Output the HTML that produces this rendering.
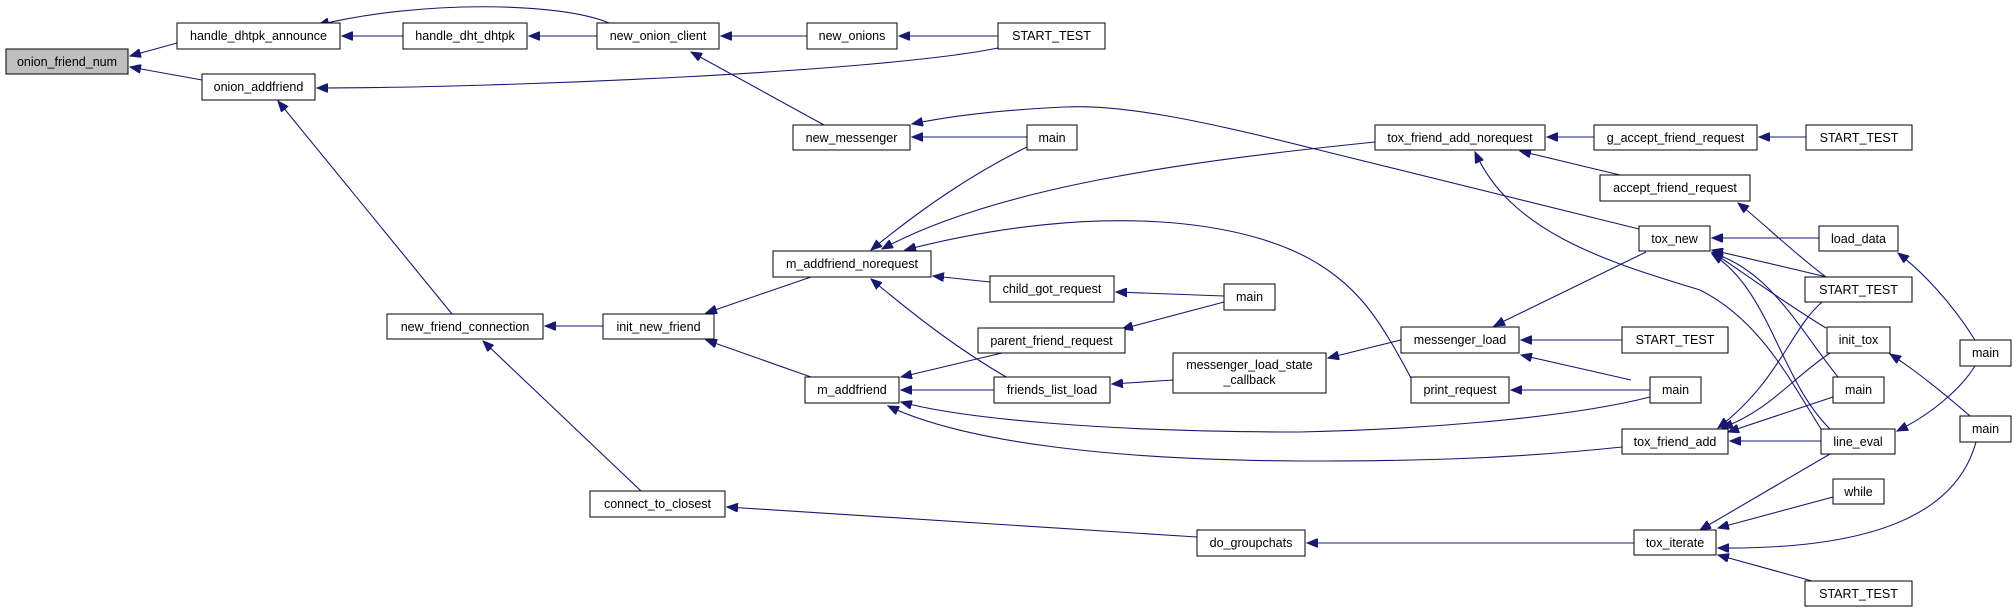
<!DOCTYPE html>
<html><head><meta charset="utf-8"><style>
html,body{margin:0;padding:0;background:#fff;}
svg{display:block;}
text{font-family:"Liberation Sans",Arial,sans-serif;font-size:12.5px;fill:#000;text-anchor:middle;}
rect{fill:#fff;stroke:#000;stroke-width:1;}
path.e{fill:none;stroke:#191970;stroke-width:1.1;marker-end:url(#a);}
</style></head><body>
<svg width="2016" height="612" viewBox="0 0 2016 612" xmlns="http://www.w3.org/2000/svg">
<defs><marker id="a" markerUnits="userSpaceOnUse" markerWidth="12" markerHeight="9" refX="11" refY="4.5" orient="auto"><path d="M0,0 L11,4.5 L0,9 z" fill="#191970" stroke="#191970"/></marker></defs>
<g>
<path class="e" d="M177,43 L130,56"/>
<path class="e" d="M202,80 L130,67"/>
<path class="e" d="M403,36 L342,36"/>
<path class="e" d="M609,23 C560,2 420,0 318,25"/>
<path class="e" d="M597,36 L529,36"/>
<path class="e" d="M807,36 L721,36"/>
<path class="e" d="M998,36 L899,36"/>
<path class="e" d="M998,48 C880,72 500,88 317,88"/>
<path class="e" d="M824,125 L691,52"/>
<path class="e" d="M1027,137 L912,137"/>
<path class="e" d="M1639,229 L1311,148 C1200,120 1120,104 1065,107 C1000,110 950,116 912,124"/>
<path class="e" d="M1027,147 C970,175 920,210 871,250"/>
<path class="e" d="M1375,142 C1200,160 1000,185 882,249"/>
<path class="e" d="M1411,378 C1380,320 1360,290 1320,265 C1250,220 1100,200 905,250"/>
<path class="e" d="M990,282 L933,276"/>
<path class="e" d="M1224,296 L1116,292"/>
<path class="e" d="M1224,302 L1122,329"/>
<path class="e" d="M1006,377 C960,350 920,320 871,279"/>
<path class="e" d="M811,277 L706,313"/>
<path class="e" d="M811,377 L706,340"/>
<path class="e" d="M603,326 L545,326"/>
<path class="e" d="M452,314 L278,101"/>
<path class="e" d="M641,491 L483,341"/>
<path class="e" d="M1197,537 L727,507"/>
<path class="e" d="M1634,543 L1307,543"/>
<path class="e" d="M1002,353 L901,377"/>
<path class="e" d="M994,390 L901,390"/>
<path class="e" d="M1173,380 L1112,384"/>
<path class="e" d="M1401,340 L1328,358"/>
<path class="e" d="M1650,397 C1560,420 1400,430 1300,432 C1100,432 960,418 901,402"/>
<path class="e" d="M1622,447 C1500,460 1400,461 1300,461 C1100,460 960,440 888,406"/>
<path class="e" d="M1650,390 L1511,390"/>
<path class="e" d="M1646,252 L1494,326"/>
<path class="e" d="M1622,340 L1521,340"/>
<path class="e" d="M1631,380 L1521,355"/>
<path class="e" d="M1819,238 L1712,238"/>
<path class="e" d="M1827,277 L1712,250"/>
<path class="e" d="M1826,328 C1780,300 1740,270 1712,252"/>
<path class="e" d="M1838,377 C1800,330 1770,270 1712,253"/>
<path class="e" d="M1830,429 C1780,380 1770,290 1712,254"/>
<path class="e" d="M1826,277 C1790,250 1760,220 1738,203"/>
<path class="e" d="M1620,175 L1520,151"/>
<path class="e" d="M1594,137 L1547,137"/>
<path class="e" d="M1806,137 L1759,137"/>
<path class="e" d="M1821,429 C1790,380 1760,320 1700,290 C1600,260 1510,230 1475,152"/>
<path class="e" d="M1822,302 C1790,330 1780,380 1718,428"/>
<path class="e" d="M1830,353 C1790,380 1770,410 1722,428"/>
<path class="e" d="M1833,397 L1728,432"/>
<path class="e" d="M1821,441 L1730,441"/>
<path class="e" d="M1975,340 C1950,300 1920,270 1898,253"/>
<path class="e" d="M1975,366 C1960,390 1930,415 1897,431"/>
<path class="e" d="M1970,416 C1940,390 1915,370 1890,354"/>
<path class="e" d="M1976,442 C1960,500 1900,550 1718,548"/>
<path class="e" d="M1830,454 L1700,530"/>
<path class="e" d="M1833,497 L1718,528"/>
<path class="e" d="M1812,581 L1718,555"/>
</g>
<g>
<rect x="6" y="49" width="122" height="25" style="fill:#bfbfbf"/><text x="67" y="66">onion_friend_num</text>
<rect x="177" y="23" width="163" height="26"/><text x="258.5" y="40">handle_dhtpk_announce</text>
<rect x="403" y="23" width="124" height="26"/><text x="465" y="40">handle_dht_dhtpk</text>
<rect x="597" y="23" width="122" height="26"/><text x="658" y="40">new_onion_client</text>
<rect x="807" y="23" width="90" height="26"/><text x="852" y="40">new_onions</text>
<rect x="998" y="23" width="107" height="26"/><text x="1051.5" y="40">START_TEST</text>
<rect x="202" y="74" width="113" height="26"/><text x="258.5" y="91">onion_addfriend</text>
<rect x="793" y="125" width="117" height="25"/><text x="851.5" y="142">new_messenger</text>
<rect x="1027" y="125" width="50" height="25"/><text x="1052" y="142">main</text>
<rect x="1375" y="125" width="170" height="25"/><text x="1460" y="142">tox_friend_add_norequest</text>
<rect x="1594" y="125" width="163" height="25"/><text x="1675.5" y="142">g_accept_friend_request</text>
<rect x="1806" y="125" width="106" height="25"/><text x="1859" y="142">START_TEST</text>
<rect x="1600" y="175" width="150" height="26"/><text x="1675" y="192">accept_friend_request</text>
<rect x="1639" y="226" width="71" height="25"/><text x="1674.5" y="243">tox_new</text>
<rect x="1819" y="226" width="79" height="25"/><text x="1858.5" y="243">load_data</text>
<rect x="773" y="251" width="158" height="26"/><text x="852" y="268">m_addfriend_norequest</text>
<rect x="990" y="276" width="124" height="26"/><text x="1052" y="293">child_got_request</text>
<rect x="1224" y="284" width="51" height="26"/><text x="1249.5" y="301">main</text>
<rect x="1805" y="277" width="107" height="25"/><text x="1858.5" y="294">START_TEST</text>
<rect x="387" y="314" width="156" height="25"/><text x="465" y="331">new_friend_connection</text>
<rect x="603" y="314" width="111" height="25"/><text x="658.5" y="331">init_new_friend</text>
<rect x="978" y="328" width="147" height="25"/><text x="1051.5" y="345">parent_friend_request</text>
<rect x="1173" y="353" width="153" height="40"/><text x="1249.5" y="369">messenger_load_state</text><text x="1249.5" y="384">_callback</text>
<rect x="1401" y="327" width="118" height="26"/><text x="1460" y="344">messenger_load</text>
<rect x="1622" y="327" width="106" height="26"/><text x="1675" y="344">START_TEST</text>
<rect x="1827" y="327" width="63" height="26"/><text x="1858.5" y="344">init_tox</text>
<rect x="1960" y="340" width="51" height="26"/><text x="1985.5" y="357">main</text>
<rect x="805" y="377" width="94" height="26"/><text x="852" y="394">m_addfriend</text>
<rect x="994" y="377" width="116" height="26"/><text x="1052" y="394">friends_list_load</text>
<rect x="1411" y="377" width="98" height="26"/><text x="1460" y="394">print_request</text>
<rect x="1650" y="377" width="51" height="26"/><text x="1675.5" y="394">main</text>
<rect x="1833" y="377" width="51" height="26"/><text x="1858.5" y="394">main</text>
<rect x="1960" y="416" width="51" height="26"/><text x="1985.5" y="433">main</text>
<rect x="1622" y="429" width="106" height="25"/><text x="1675" y="446">tox_friend_add</text>
<rect x="1821" y="429" width="74" height="25"/><text x="1858" y="446">line_eval</text>
<rect x="1833" y="479" width="51" height="25"/><text x="1858.5" y="496">while</text>
<rect x="590" y="491" width="135" height="26"/><text x="657.5" y="508">connect_to_closest</text>
<rect x="1197" y="530" width="108" height="26"/><text x="1251" y="547">do_groupchats</text>
<rect x="1634" y="530" width="82" height="25"/><text x="1675" y="547">tox_iterate</text>
<rect x="1805" y="581" width="107" height="25"/><text x="1858.5" y="598">START_TEST</text>
</g>
</svg>
</body></html>
